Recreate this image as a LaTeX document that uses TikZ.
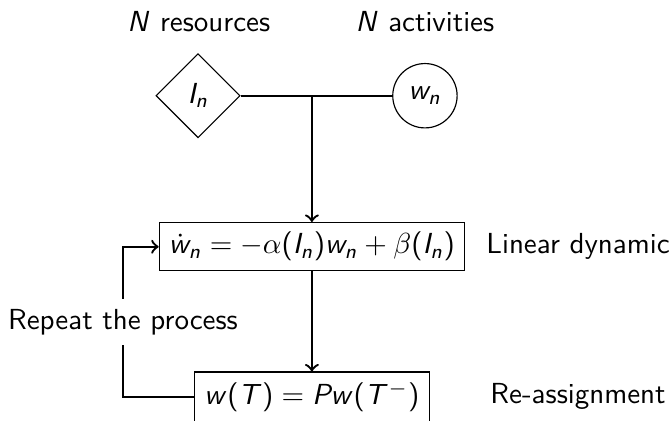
\documentclass[tikz,border=0pt]{standalone}
\usetikzlibrary{shapes.geometric}
\renewcommand{\familydefault}{\sfdefault}
% sans letters in math, Greek stays as it is
\DeclareSymbolFont{sfletters}{OT1}{cmss}{m}{sl}
\DeclareSymbolFont{sfupright}{OT1}{cmss}{m}{n}
\DeclareMathSymbol{w}{\mathalpha}{sfletters}{`w}
\DeclareMathSymbol{n}{\mathalpha}{sfletters}{`n}
\DeclareMathSymbol{I}{\mathalpha}{sfletters}{`I}
\DeclareMathSymbol{T}{\mathalpha}{sfletters}{`T}
\DeclareMathSymbol{P}{\mathalpha}{sfletters}{`P}
\DeclareMathSymbol{N}{\mathalpha}{sfletters}{`N}
\DeclareMathSymbol{(}{\mathopen}{sfupright}{`(}
\DeclareMathSymbol{)}{\mathclose}{sfupright}{`)}

\begin{document}
\begin{tikzpicture}[
    box/.style={draw, rectangle},
    flow/.style={->, thick},
  ]
    \useasboundingbox (-3.78,-2.105) rectangle (4.34,2.99);

    % Resources and activities
    \node (reslabel) at (-1.37,2.73) {$N$ resources};
    \node (actlabel) at (1.37,2.73)  {$N$ activities};

    \node[draw, diamond, minimum size=1.02cm, inner sep=0pt] (res) at (-1.38,1.83) {$I_n$};
    \node[draw, circle, minimum size=0.78cm, inner sep=0pt]  (act) at (1.37,1.83)  {$w_n$};
    \coordinate (join) at (0,1.83);

    % Process
    \node[box] (dyn) at (0,0) {$\dot{w}_n = -\alpha(I_n)w_n + \beta(I_n)$};
    \node[anchor=west] (dynlabel) at (1.99,0) {Linear dynamic};

    \node[box] (reassign) at (0,-1.82) {$w(T) = Pw(T^-)$};
    \node[anchor=west] (reassignlabel) at (2.04,-1.82) {Re-assignment};

    \node (repeat) at (-2.29,-0.91) {Repeat the process};

    \draw[thick] (res) -- (act);
    \draw[flow] (join) -- (dyn);
    \draw[flow] (dyn) -- (reassign);
    \draw[thick] (reassign) -| (repeat);
    \draw[flow] (repeat) |- (dyn);
  \end{tikzpicture}
\end{document}
